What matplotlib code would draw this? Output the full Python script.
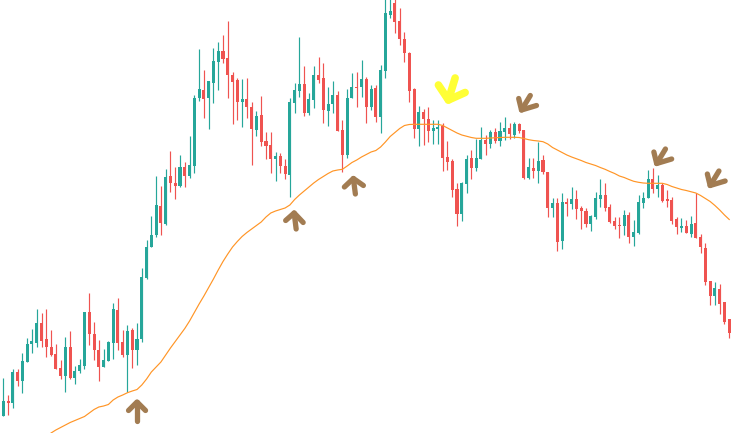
import numpy as np
import matplotlib
matplotlib.use("Agg")
import matplotlib.pyplot as plt

# OHLC prices (153 candles)
opens = [17.3, 32.3, 30.3, 61, 52.3, 71.3, 88.7, 90.3, 109.7, 93.7,
         85.7, 79, 64.7, 57.3, 85.7, 54.7, 62, 67, 121.3, 99,
         83, 66.3, 72.3, 90.3, 123, 91.3, 78, 103, 83, 93.7,
         155.3, 185.7, 198, 227, 209, 257, 250.3, 247.3, 266.3, 257.3,
         267.3, 335.3, 343, 335.3, 350.3, 371.3, 382, 375.3, 358, 353,
         331.3, 333.7, 326.3, 303, 318, 292, 288, 274, 277, 267,
         258, 330.3, 342.3, 349, 320.3, 333, 358, 355.3, 322.3, 329,
         338, 303, 278, 334.7, 345.7, 345.7, 354, 326.3, 344.7, 316.3,
         362.3, 418, 430.3, 412, 393.7, 380.3, 343.7, 303.7, 320.7, 314,
         302, 304, 307, 276.3, 272, 244, 219, 249, 274.7, 265.3,
         274, 293, 288.7, 301.3, 292.3, 300.7, 304.7, 298, 308.7, 303,
         255.3, 265.3, 262, 273, 261.3, 225.3, 229.7, 192, 231.3, 228.7,
         233.7, 225.3, 222, 208.7, 216.3, 234, 238, 225.7, 212, 208,
         207.3, 218, 195.7, 200.3, 230.3, 234.7, 253.7, 244, 248, 233.7,
         233, 213.7, 205.3, 207, 199, 210.3, 195.7, 185.3, 152, 137,
         143.7, 131.3, 113.7]
highs = [55, 38, 63.7, 63.7, 80.3, 94.7, 104, 124, 119.7, 123.7,
         103, 89, 73, 95.7, 102, 67, 73.7, 121.3, 140.3, 111.3,
         93, 83.7, 92, 130.3, 134.7, 103, 108, 104.7, 109.7, 165.3,
         193, 217, 257, 247, 264, 282, 266.3, 278, 271.3, 297,
         338, 383.7, 363, 352, 384.7, 390.7, 398, 412, 361.3, 355.3,
         354, 355.3, 331.3, 322, 337, 301.3, 301.3, 281.3, 279.7, 274,
         335.3, 349.7, 396.3, 367, 340.3, 367, 376.3, 369.7, 345.7, 352,
         342.3, 313, 343.7, 360.3, 361.3, 373, 356.3, 348, 348, 368,
         438, 438, 438, 424.7, 401.3, 381.3, 344.7, 327, 323.7, 325.7,
         313, 313, 310.3, 292, 273.7, 249.7, 251.3, 278, 283, 294,
         306.3, 298, 303, 304.7, 311.3, 316.3, 310.3, 311.3, 310.3, 303,
         274.7, 274.7, 291.3, 278, 261.3, 235.3, 235.3, 239.7, 235.3, 245.7,
         243, 227, 224.7, 218, 241.3, 253.7, 249.7, 229, 216.3, 216.3,
         223, 221.3, 213, 238, 241.3, 263, 264.7, 258, 249.7, 243,
         236.3, 215.7, 214.7, 213, 217, 240.3, 199, 189.7, 152, 151.3,
         149, 131.3, 113.7]
lows = [17, 18, 24.7, 47, 40.3, 71, 80.3, 86.3, 86.3, 75.7,
        77, 64, 53.7, 41.3, 53.7, 48.7, 60.3, 63.7, 88, 73,
        52.3, 66.3, 72.3, 73.7, 83, 76.3, 41.3, 64.7, 68, 91.3,
        153.7, 185.7, 196.3, 198, 208, 241.3, 233.7, 245.7, 246.3, 254.7,
        260.3, 332.3, 314.7, 303.7, 329.7, 343, 369.7, 335.3, 308.7, 313,
        306.3, 314.7, 268, 297.3, 287, 273.7, 260.3, 252.3, 259.7, 253.7,
        236.3, 320.3, 336.3, 317, 318, 324.7, 350.3, 309.7, 307, 320.3,
        302.3, 261.3, 274.7, 334.7, 326.3, 336.3, 310.3, 323, 311.3, 300.3,
        354.7, 414.7, 399.7, 388, 371.3, 331.3, 294.7, 287, 288, 291.3,
        289, 289, 262.3, 263, 236.3, 207.3, 212.3, 240.3, 254, 262,
        274, 278, 284.7, 289.7, 287.3, 293, 293.7, 294.7, 300.3, 254,
        254, 255.3, 250.3, 258.7, 216.3, 216.3, 182.3, 184, 217, 223.7,
        213.7, 203.7, 206.3, 202.3, 213.7, 226.3, 222.3, 209.7, 203.7, 194.7,
        198, 189.7, 187.3, 198.7, 225.3, 234.7, 240.3, 235.7, 231.3, 225.7,
        209, 199, 201.3, 199.7, 196.3, 194.7, 180.3, 148, 128, 128,
        119, 109, 94.7]
closes = [32.3, 30.3, 61, 52.3, 72, 89, 92, 109.7, 92, 85.7,
          78.3, 64, 57.3, 85.7, 54.7, 62, 68, 121.3, 99, 83,
          66.3, 73, 91.3, 124, 90.3, 78, 102.3, 83, 93.7, 156.3,
          186.3, 198, 228, 209.7, 256.3, 249.7, 247.3, 266.3, 257, 268,
          335.3, 344, 334.3, 352, 372, 382, 374, 358, 351.3, 331.3,
          333.7, 325.7, 304, 317, 291.3, 287.3, 273.7, 277, 267, 258.7,
          331.3, 343, 349, 320.3, 333.7, 358, 353, 323, 329, 338,
          302.3, 278, 335.3, 345.7, 345, 354, 326.3, 344, 316.3, 363,
          420.3, 422, 411.3, 393.7, 379.7, 342.3, 303.7, 320.7, 313.7, 302,
          305.3, 306.3, 275.3, 271.3, 243, 219, 249.7, 274, 265.3, 274.7,
          293, 288.7, 301.3, 292.3, 302.3, 304.7, 298.7, 308.7, 302.3, 255.3,
          265.7, 262, 272, 261.3, 225.3, 229.7, 191.3, 230.7, 228.7, 233.7,
          223.7, 222.3, 208.7, 217, 235.3, 238, 224.7, 211.3, 207, 207.3,
          218, 195.7, 200.7, 231.3, 235.3, 253.7, 244, 248, 232, 232,
          212.3, 205.7, 207, 199.7, 209, 194.7, 185.7, 151.3, 137, 144.7,
          129, 111.3, 100.3]

# Moving average (aligned to the last candles)
ma = [0, 3, 5.5, 8, 10.5, 12.5, 14.5, 16.5, 20, 23.5,
      26, 27, 28.5, 33, 36, 38, 40.3, 42, 43.5, 48,
      54, 61, 66, 71, 78, 85, 91.5, 98, 104.5, 112,
      120.5, 129, 137, 145.5, 154, 163, 171.5, 179, 186, 191.5,
      196.5, 200.5, 204, 207.5, 211, 216, 220, 222, 223.5, 225,
      228, 233.5, 238, 242, 246, 250, 253.5, 256.5, 259.5, 262,
      263, 263.7, 267, 270.5, 273, 276, 278.5, 281, 282.5, 286,
      291, 296.5, 300.5, 304.5, 307.5, 308.5, 308.7, 308.7, 308.7, 308.7,
      308.7, 308.7, 307.5, 305, 302.5, 300, 298, 296.7, 295.5, 294.7,
      294.7, 294.7, 295, 295.3, 295.5, 295.7, 295.7, 295.7, 295.5, 294.5,
      293.3, 292.5, 292, 291.3, 289, 285.5, 283, 280.5, 278, 276,
      274.3, 272.5, 270.5, 269, 267.5, 265.5, 263.7, 261.5, 259.5, 257,
      255.5, 253.5, 251.7, 250.7, 250, 249.7, 249.7, 249.7, 249.7, 248.5,
      246.5, 245, 243.5, 242.5, 241.3, 240, 237.5, 234.5, 231.5, 227.5,
      223, 218, 213.5]

# Marker arrows: (candle index, price at tip, colour name)
arrow_idx = [28.0, 60.9, 73.3, 93.2, 108.5, 136.8, 148.0]
arrow_price = [31, 220, 254.5, 333, 323, 269.5, 247.5]
arrow_kind = ["up", "up", "up", "hl", "dn", "dn", "dn"]

GREEN = "#26A69A"
RED = "#EF5350"
ORANGE = "#FF9526"
BROWN = "#A27C52"
YELLOW = "#FFFF36"

W, H = 733, 433
fig = plt.figure(figsize=(W / 100, H / 100), dpi=100)
ax = fig.add_axes([0, 0, 1, 1])
ax.set_axis_off()

n = len(opens)
x = np.arange(n)
o = np.array(opens, float)
h = np.array(highs, float)
l = np.array(lows, float)
c = np.array(closes, float)
up = c >= o
cols = np.where(up, GREEN, RED)

ax.vlines(x, l, h, colors=cols, linewidth=0.85, zorder=2)
body_lo = np.minimum(o, c)
body_h = np.maximum(np.abs(c - o), 1.0)
ax.bar(x, body_h, bottom=body_lo, width=0.64, color=cols, linewidth=0, zorder=3)

ma_arr = np.array(ma, float)
ma_x = np.arange(n - len(ma_arr), n)
ax.plot(ma_x, ma_arr, color=ORANGE, linewidth=0.85, zorder=4)

# x scale: pixels per candle
px_per_idx = 4.776
x0 = -3.3 / px_per_idx
ax.set_xlim(x0, x0 + W / px_per_idx)
ax.set_ylim(0, H)

# arrow shapes in pixel offsets (dx right, dy up) relative to the tip
shapes = {
    "up": [(0, -19), (-8.5, -8.5), (8.5, -8.5)],
    "hl": [(6.7, 22), (-10, 15), (16.7, 7.5)],
    "dn": [(8.8, 14.5), (-2.8, 11.5), (15, 4.5)],
}
for i, (ai, ap, kind) in enumerate(zip(arrow_idx, arrow_price, arrow_kind)):
    tail, a1, a2 = shapes[kind]
    if i == 1:
        tail, a1, a2 = (2, -16), (-8.5, -7.5), (9, -9.5)
    if i == 2:
        tail, a1, a2 = (2, -15.5), (-9, -8.5), (10, -7)
    col = YELLOW if kind == "hl" else BROWN
    lw = 5.5 if kind == "hl" else 3.8
    def P(d):
        return ai + d[0] / px_per_idx, ap + d[1]
    tx, ty = P(tail)
    ax.plot([tx, ai], [ty, ap], color=col, lw=lw, solid_capstyle="round", zorder=6)
    p1 = P(a1)
    p2 = P(a2)
    ax.plot([p1[0], ai, p2[0]], [p1[1], ap, p2[1]], color=col, lw=lw,
            solid_capstyle="round", solid_joinstyle="round", zorder=6)

fig.savefig("out.png", dpi=100, facecolor="white")
